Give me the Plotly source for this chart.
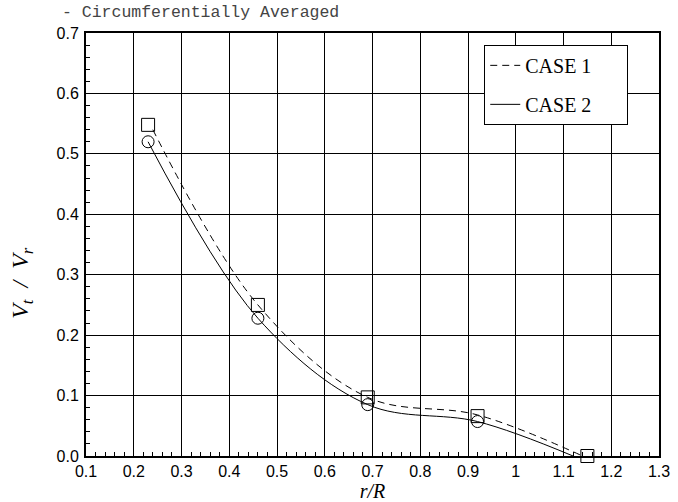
import plotly.graph_objects as go

# marker data
r_case1 = [0.23, 0.46, 0.69, 0.92, 1.15]
vt_case1 = [0.548, 0.250, 0.097, 0.066, 0.0]
r_case2 = [0.23, 0.46, 0.69, 0.92]
vt_case2 = [0.520, 0.228, 0.085, 0.057]

curve1_r = [0.24, 0.46, 0.69, 0.92, 1.14]
curve1_v = [0.540, 0.250, 0.097, 0.068, 0.0]
curve2_r = [0.23, 0.46, 0.69, 0.92, 1.12]
curve2_v = [0.520, 0.228, 0.085, 0.057, 0.0]

x_ticks = [0.1, 0.2, 0.3, 0.4, 0.5, 0.6, 0.7, 0.8, 0.9, 1.0, 1.1, 1.2, 1.3]
x_labels = ['0.1', '0.2', '0.3', '0.4', '0.5', '0.6', '0.7', '0.8', '0.9', '1', '1.1', '1.2', '1.3']
y_ticks = [0.0, 0.1, 0.2, 0.3, 0.4, 0.5, 0.6, 0.7]

pad = '\u00a0' * 6

fig = go.Figure()

fig.add_trace(go.Scatter(
    x=curve1_r, y=curve1_v, mode='lines', name='CASE 1' + pad,
    line=dict(color='black', width=1, dash='7px,5px', shape='spline'),
    legendgroup='a'
))
fig.add_trace(go.Scatter(
    x=curve2_r, y=curve2_v, mode='lines', name='CASE 2' + pad,
    line=dict(color='black', width=1, shape='spline'),
    legendgroup='b'
))
fig.add_trace(go.Scatter(
    x=r_case1, y=vt_case1, mode='markers', showlegend=False,
    marker=dict(symbol='square-open', size=13, color='black', line=dict(width=1)),
    cliponaxis=False
))
fig.add_trace(go.Scatter(
    x=r_case2, y=vt_case2, mode='markers', showlegend=False,
    marker=dict(symbol='circle-open', size=12, color='black', line=dict(width=1)),
    cliponaxis=False
))

axis_font = dict(family='Liberation Sans, Arial', size=16, color='black')
serif = 'Liberation Serif, Times New Roman'

fig.update_layout(
    width=678, height=502,
    margin=dict(l=86, r=19, t=33, b=46),
    plot_bgcolor='white', paper_bgcolor='white',
    showlegend=True,
    legend=dict(
        x=0.695, y=0.972, xanchor='left', yanchor='top',
        bgcolor='white', bordercolor='black', borderwidth=1,
        font=dict(family=serif, size=20, color='black'),
        tracegroupgap=10, itemwidth=30
    ),
    xaxis=dict(
        range=[0.1, 1.3], tickvals=x_ticks, ticktext=x_labels, automargin=False,
        showgrid=True, gridcolor='black', gridwidth=1,
        showline=True, linecolor='black', linewidth=2, mirror=True,
        ticks='inside', ticklen=8, tickcolor='black',
        minor=dict(ticks='inside', ticklen=4, dtick=0.02, tickcolor='black', showgrid=False),
        tickfont=axis_font, zeroline=False,
        title=dict(text='<i>r/R</i>', standoff=0,
                   font=dict(family=serif, size=20, color='black'))
    ),
    yaxis=dict(
        range=[0.0, 0.7], tickvals=y_ticks, tickformat='.1f', automargin=False,
        showgrid=True, gridcolor='black', gridwidth=1,
        showline=True, linecolor='black', linewidth=2, mirror=True,
        ticks='inside', ticklen=8, tickcolor='black',
        minor=dict(ticks='inside', ticklen=4, dtick=0.02, tickcolor='black', showgrid=False),
        tickfont=axis_font, zeroline=False, ticklabelstandoff=2
    ),
    annotations=[
        dict(
            text='- Circumferentially Averaged', xref='paper', yref='paper',
            x=-0.045, y=1.0, xanchor='left', yanchor='bottom', yshift=9, showarrow=False,
            font=dict(family='Liberation Mono, Courier New', size=16.5, color='#444444')
        ),
        dict(
            text='<i>V<sub>t</sub>  /  V<sub>r</sub></i>', xref='paper', yref='paper',
            x=-0.112, y=0.409, xanchor='center', yanchor='middle', textangle=-90,
            showarrow=False, font=dict(family=serif, size=24, color='black')
        )
    ]
)

# drop the default 8px page margin so the figure fills the window
fig.write_html("out.html", config={'displayModeBar': False},
               post_script="document.body.style.margin='0';")
